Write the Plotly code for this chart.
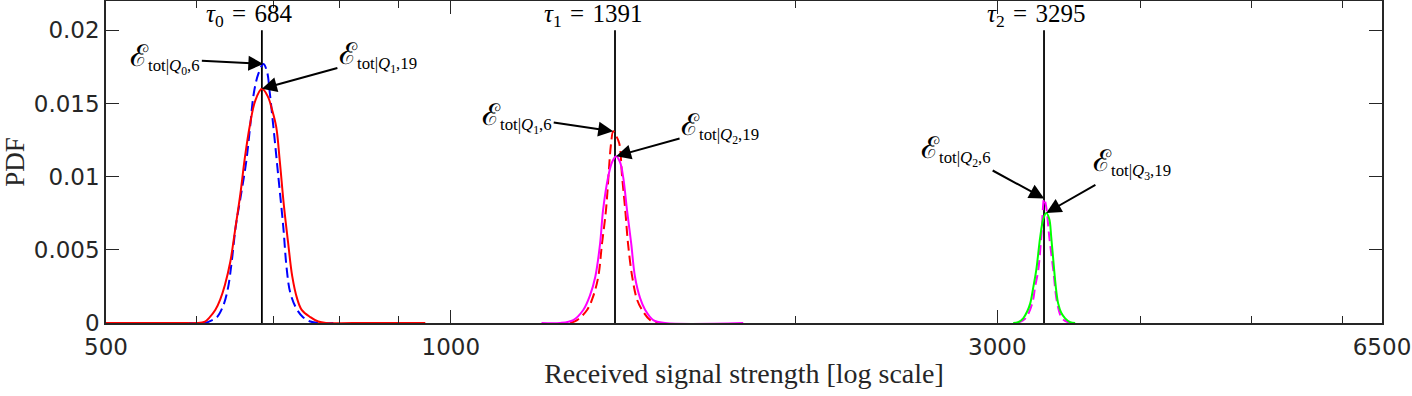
import numpy as np
import plotly.graph_objects as go

# ---------------- data ----------------
TAU = [684, 1391, 3295]
TAU_NAMES = ["0", "1", "2"]

# group around tau0
blue0_x = [590, 610, 619, 625, 633, 639, 644, 649, 656, 663, 668, 673, 679, 686, 691, 695, 700, 707,
           714, 719, 724, 733, 743, 754, 766, 790]
blue0_y = [0, 0, 0.0002, 0.0004, 0.0012, 0.0024, 0.0043, 0.0066, 0.0088, 0.0111, 0.0134, 0.0157, 0.0170,
           0.0177, 0.0172, 0.0157, 0.0134, 0.0100, 0.0066, 0.0037, 0.0021, 0.0010, 0.0004, 0.0001, 0, 0]
red0_x = [500, 580, 600, 610, 616, 623, 629, 635, 642, 648, 655, 661, 668, 675, 684, 692, 698, 704, 709,
          715, 721, 727, 734, 741, 754, 766, 778, 820, 950]
red0_y = [0, 0, 0, 0.0001, 0.0004, 0.0009, 0.0016, 0.0026, 0.0042, 0.0063, 0.0088, 0.0113, 0.0136, 0.0152,
          0.0160, 0.0155, 0.0146, 0.0134, 0.0111, 0.0080, 0.0055, 0.0032, 0.0017, 0.0009, 0.0004, 0.0001,
          0, 0, 0]

# group around tau1
red1_x = [1271, 1289, 1315, 1331, 1345, 1355, 1366, 1380, 1386, 1394, 1403, 1411, 1420, 1428, 1440, 1454,
          1469, 1493, 1523]
red1_y = [0, 0.0002, 0.00089, 0.0018, 0.00316, 0.0054, 0.00771, 0.01226, 0.0131, 0.0128, 0.01226, 0.0100,
          0.00771, 0.0054, 0.00316, 0.0016, 0.00089, 0.0002, 0]
mag1_x = [1200, 1246, 1279, 1305, 1323, 1337, 1350, 1358, 1372, 1383, 1394, 1405, 1414, 1425, 1437, 1448,
          1463, 1478, 1502, 1538, 1800]
mag1_y = [0, 0, 0.0002, 0.00089, 0.0019, 0.00316, 0.00544, 0.00771, 0.00998, 0.0110, 0.0114, 0.0110,
          0.00998, 0.00771, 0.00544, 0.00316, 0.0017, 0.00089, 0.0002, 0, 0]

# group around tau2
mag2_x = [3122, 3173, 3218, 3237, 3257, 3277, 3296, 3310, 3330, 3357, 3384, 3418, 3473]
mag2_y = [0, 0.0003, 0.00134, 0.0025, 0.00361, 0.00589, 0.0085, 0.0079, 0.00589, 0.00361, 0.00134, 0.0003, 0]
green2_x = [3097, 3128, 3160, 3186, 3205, 3224, 3244, 3270, 3290, 3310, 3330, 3343, 3363, 3377, 3390, 3411,
            3438, 3473, 3508]
green2_y = [0, 0.00005, 0.00032, 0.0008, 0.00134, 0.0024, 0.00361, 0.00589, 0.0071, 0.00752, 0.0071,
            0.00589, 0.00361, 0.0022, 0.00134, 0.0007, 0.00032, 0.00005, 0]

X_TICKS = [500, 1000, 3000, 6500]
X_MINOR = [600, 700, 800, 900, 2000, 4000, 5000, 6000]
Y_TICKS = [0, 0.005, 0.01, 0.015, 0.02]
Y_TICKTEXT = ["0", "0.005", "0.01", "0.015", "0.02"]

# curve labels: (Q index, suffix)
LABELS = [("0", "6"), ("1", "19"), ("1", "6"), ("2", "19"), ("2", "6"), ("3", "19")]

# ---------------- figure ----------------
AX = "#262626"
SERIF = "Liberation Serif"
SANS = "DejaVu Sans"
DASH = "10px,5px"

curves = [
    (blue0_x, blue0_y, "#0000FF", DASH),
    (red0_x, red0_y, "#FF0000", "solid"),
    (red1_x, red1_y, "#FF0000", DASH),
    (mag1_x, mag1_y, "#FF00FF", "solid"),
    (mag2_x, mag2_y, "#FF00FF", DASH),
    (green2_x, green2_y, "#00FF00", "solid"),
]

fig = go.Figure()
for t in TAU:
    fig.add_trace(go.Scatter(x=[t, t], y=[0, Y_TICKS[-1]], mode="lines",
                             line=dict(color="black", width=1.8), hoverinfo="skip", showlegend=False))

for xs, ys, col, dash in curves:
    fig.add_trace(go.Scatter(x=xs, y=ys, mode="lines",
                             line=dict(color=col, width=2, dash=dash, shape="spline", smoothing=1),
                             hoverinfo="skip", showlegend=False))

# tau labels
tau_xshift = [-13, -22, -8]
for t, n, xs in zip(TAU, TAU_NAMES, tau_xshift):
    fig.add_annotation(x=np.log10(t), y=0.0210, xref="x", yref="y",
                       text=f"<i>τ</i><sub>{n}</sub>\u2004=\u2004{t}", showarrow=False, xshift=xs,
                       font=dict(family=SERIF, size=25, color="black"))

# arrow annotations pointing at each curve's peak
arrow_offsets = [(-98, -5), (116, -32), (-96, -14), (104, -29), (-88, -48), (86, -49)]
for (xs, ys, col, dash), (qi, s), (ax, ay) in zip(curves, LABELS, arrow_offsets):
    k = int(np.argmax(ys))
    txt = (f"<span style='font-size:30px'>ℰ</span><sub>tot|<i>Q</i>"
           f"<sub>{qi}</sub>,{s}</sub>")
    fig.add_annotation(x=np.log10(xs[k]), y=ys[k], xref="x", yref="y",
                       text=txt, showarrow=True, ax=ax, ay=ay,
                       arrowhead=2, arrowsize=1.5, arrowwidth=2, arrowcolor="black",
                       standoff=0, startstandoff=0,
                       font=dict(family=SERIF, size=24, color="black"))

fig.update_layout(
    width=1412, height=396,
    margin=dict(l=106, r=30, t=1, b=73, autoexpand=False),
    plot_bgcolor="white", paper_bgcolor="white",
    showlegend=False,
)
fig.update_xaxes(
    type="log", range=[np.log10(X_TICKS[0]), np.log10(X_TICKS[-1])],
    tickmode="array", tickvals=X_TICKS, ticktext=[str(v) for v in X_TICKS],
    ticks="inside", ticklen=13, tickwidth=1.3, tickcolor=AX,
    showline=True, linecolor=AX, linewidth=1.5, mirror="allticks",
    showgrid=False, zeroline=False, automargin=False, ticklabelstandoff=3,
    tickfont=dict(family=SANS, size=23, color=AX),
    minor=dict(tickmode="array", tickvals=X_MINOR, ticks="inside", ticklen=7,
               tickwidth=1.3, tickcolor=AX, showgrid=False),
    title=dict(text="Received signal strength [log scale]",
               font=dict(family=SERIF, size=28, color=AX), standoff=4),
)
fig.update_yaxes(
    range=[0, 0.022],
    tickmode="array", tickvals=Y_TICKS, ticktext=Y_TICKTEXT,
    ticks="inside", ticklen=13, tickwidth=1.3, tickcolor=AX,
    showline=True, linecolor=AX, linewidth=1.5, mirror="allticks",
    showgrid=False, zeroline=False, automargin=False,
    tickfont=dict(family=SANS, size=23, color=AX),
    title=dict(text="PDF", font=dict(family=SERIF, size=27, color=AX), standoff=21),
)

fig.write_html("out.html", config={"displayModeBar": False},
               post_script="document.body.style.margin='0';")
